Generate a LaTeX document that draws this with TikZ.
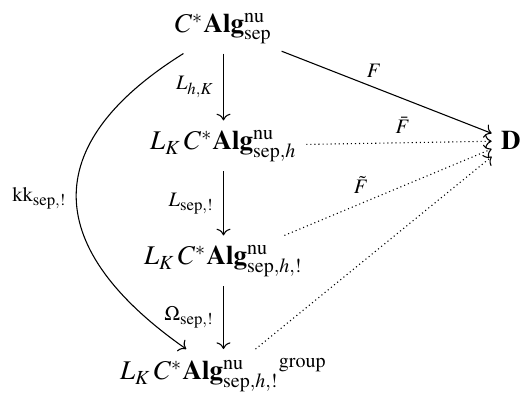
\documentclass[tikz,border=0pt]{standalone}
\usepackage{amsmath}
\usepackage{mathptmx}
\usetikzlibrary{arrows.meta}
\DeclareMathSizes{7.6}{7.6}{6.2}{5}

\begin{document}
\begin{tikzpicture}[x=0.37pt,y=0.37pt,>={Computer Modern Rightarrow},
 obj/.style={anchor=base,inner sep=3.33pt},
 lbl/.style={font=\fontsize{7.6}{9}\selectfont},
 arr/.style={->,line width=.4pt},
 dots/.style={arr,dash pattern=on .4pt off 1.1pt}]

\useasboundingbox (0,0) rectangle (521,394);

\node[obj] (top) at (223.5,361) {$C^*\mathbf{Alg}^{\mathrm{nu}}_{\mathrm{sep}}$};
\node[obj] (hk) at (223.5,244) {$L_K\,C^*\mathbf{Alg}^{\mathrm{nu}}_{\mathrm{sep},h}$};
\node[obj] (bang) at (223.5,129) {$L_K\,C^*\mathbf{Alg}^{\mathrm{nu}}_{\mathrm{sep},h,!}$};
\node[obj] (grp) at (223.5,14) {$L_K\,C^*{\mathbf{Alg}^{\mathrm{nu}}_{\mathrm{sep},h,!}}^{\mathrm{group}}$};
\node[obj] (D) at (511,244) {$\mathbf{D}$};

% column
\draw[arr] (top) -- node[lbl,left] {$L_{h,K}$} (hk);
\draw[arr] (hk) -- node[lbl,left] {$L_{\mathrm{sep},!}$} (bang);
\draw[arr] (bang) -- node[lbl,left] {$\Omega_{\mathrm{sep},!}$} (grp);
\draw[arr] (top) to[out=212,in=145,looseness=1.5] node[lbl,left] {$\mathrm{kk}_{\mathrm{sep},!}$} (grp);

% into D
\draw[arr] (top) -- node[lbl,above,pos=.44] {$F$} (D);
\draw[dots] (hk) -- node[lbl,above,pos=.52] {$\bar F$} (D);
\draw[dots] (bang) -- node[lbl,above,pos=.37] {$\tilde F$} (D);
\draw[dots] (grp) -- (D);

\end{tikzpicture}
\end{document}
